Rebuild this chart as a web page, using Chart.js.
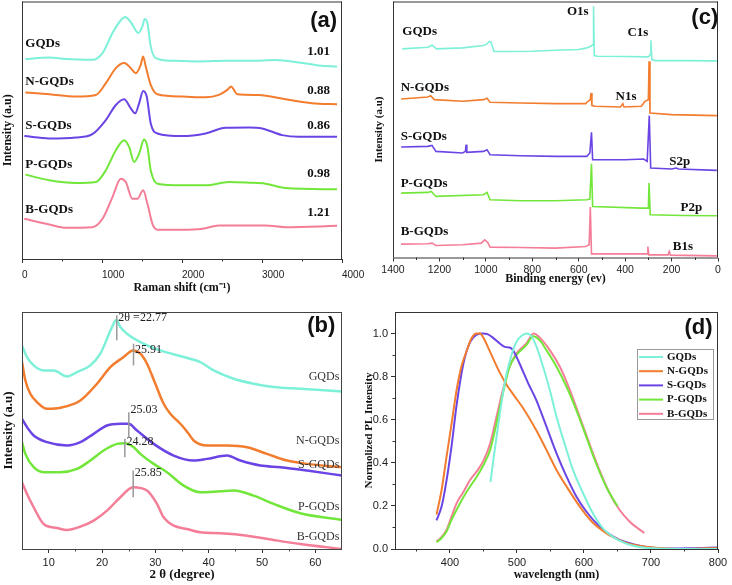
<!DOCTYPE html>
<html lang="en">
<head>
<meta charset="UTF-8">
<title>GQDs: Raman, XRD, XPS and PL</title>
<script src="https://cdn.jsdelivr.net/npm/chart.js"></script>
<style>
  body { margin: 0; background: #fff; }
  #wrap { position: relative; width: 732px; height: 585px; overflow: hidden; }
  canvas { position: absolute; }
</style>
</head>
<body>
<div id="wrap">
  <canvas id="ramanChart" width="372" height="296" style="left:0;top:0"></canvas>
  <canvas id="xpsChart" width="372" height="290" style="left:360px;top:0"></canvas>
  <canvas id="xrdChart" width="360" height="289" style="left:0;top:296px"></canvas>
  <canvas id="plChart" width="372" height="289" style="left:360px;top:296px"></canvas>
</div>
<script>
// ---- data ----
const seriesNames = ['GQDs', 'N-GQDs', 'S-GQDs', 'P-GQDs', 'B-GQDs'];

// (a) Raman: [shift cm-1, offset intensity]
const ramanGQDs = [[42,597],[341,602],[549,597],[881,595],[1006,615],[1131,675],[1235,713],[1289,723],[1360,707],[1455,675],[1505,695],[1534,717],[1568,705],[1609,635],[1672,600],[1879,592],[2212,590],[2545,592],[2877,592],[3168,594],[3460,587],[3709,578],[3938,575]];
const ramanNGQDs = [[42,497],[341,492],[674,485],[923,490],[1048,525],[1173,570],[1277,585],[1360,570],[1422,555],[1484,580],[1514,605],[1547,575],[1609,520],[1692,492],[2004,485],[2295,483],[2462,490],[2566,505],[2615,515],[2649,505],[2690,492],[2960,490],[3293,477],[3626,465],[3938,462]];
const ramanSGQDs = [[29,367],[341,360],[674,363],[881,373],[1048,415],[1173,460],[1277,477],[1360,450],[1414,435],[1464,465],[1514,502],[1559,485],[1609,405],[1692,375],[2004,367],[2295,375],[2545,392],[2836,393],[3002,390],[3252,370],[3460,365],[3938,365]];
const ramanPGQDs = [[42,252],[341,235],[674,227],[923,230],[1048,265],[1173,325],[1277,355],[1339,335],[1401,290],[1464,315],[1526,357],[1568,335],[1609,265],[1692,225],[2004,220],[2295,220],[2586,230],[2836,228],[3044,225],[3293,212],[3938,208]];
const ramanBGQDs = [[29,120],[341,103],[549,93],[881,95],[1006,120],[1131,185],[1235,240],[1297,230],[1380,180],[1443,180],[1514,205],[1568,165],[1638,100],[1713,87],[2004,87],[2254,90],[2462,100],[2794,100],[3044,100],[3293,95],[3938,99]];
const ramanRatio = [1.01, 0.88, 0.86, 0.98, 1.21];
const ramanTicks = [0, 1000, 2000, 3000, 4000];
const ramanMinor = [500, 1500, 2500, 3500];

// (b) XRD: [2 theta, offset intensity]
const xrdGQDs = [[5,610],[5.94,575],[7.19,550],[9.06,535],[10.94,535],[13.44,517],[15.31,530],[17.81,550],[19.69,585],[20.94,630],[21.88,665],[22.69,687],[23.44,665],[24.69,645],[27.19,620],[30.94,595],[35.31,575],[38.44,560],[40.94,535],[44.69,510],[48.44,495],[52.19,485],[57.19,480],[65,472]];
const xrdNGQDs = [[5,560],[5.63,505],[6.56,465],[7.81,440],[9.69,420],[12.19,423],[15.94,445],[19.06,495],[21.56,545],[24.06,575],[25.81,595],[27.19,585],[28.44,555],[30,495],[31.56,435],[32.81,405],[34.06,385],[35,370],[36.25,345],[37.19,325],[39.69,310],[43.44,310],[47.19,305],[50.94,285],[54.69,265],[58.44,255],[65,245]];
const xrdSGQDs = [[5,390],[5.94,365],[7.19,340],[9.69,320],[13.44,310],[15.94,320],[18.44,345],[20.94,370],[23.44,375],[25,375],[26.56,355],[29.69,315],[33.44,280],[37.19,265],[39.69,270],[43.44,280],[45.94,265],[49.69,250],[53.44,245],[58.44,235],[65,220]];
const xrdPGQDs = [[5,320],[5.63,285],[7.19,245],[9.06,230],[12.19,230],[15.31,240],[17.81,265],[20.31,295],[22.81,315],[24.25,317],[25.94,305],[27.19,285],[29.69,255],[32.19,230],[35.31,190],[38.44,170],[42.19,173],[44.69,175],[48.44,160],[52.19,135],[57.19,107],[65,87]];
const xrdBGQDs = [[5,200],[5.94,165],[7.19,125],[9.06,75],[11.56,63],[13.44,57],[15.94,67],[18.44,85],[20.94,115],[23.44,155],[25.81,185],[28.44,175],[30.31,135],[31.56,95],[33.44,70],[35.94,60],[38.44,50],[42.19,47],[47.19,40],[52.19,27],[57.19,15],[65,0]];
const xrdPeaks = [22.77, 25.91, 25.03, 24.28, 25.85];
const xrdTicks = [10, 20, 30, 40, 50, 60];
const xrdMinor = [15, 25, 35, 45, 55];

// (c) XPS survey: [binding energy eV, offset intensity]
const xpsGQDs = [[1360,625],[1250,630],[1232,636],[1212,625],[1100,628],[1010,635],[995,640],[985,647],[978,645],[972,633],[965,617],[900,617],[800,618],[700,621],[600,623],[565,628],[548,633],[538,638],[536,753],[533,605],[520,603],[400,602],[300,601],[292,608],[289,651],[285,593],[270,590],[150,590],[5,589]];
const xpsNGQDs = [[1365,475],[1250,481],[1238,485],[1222,473],[1100,468],[1010,473],[995,477],[982,465],[850,463],[700,461],[570,461],[560,468],[550,473],[547,493],[543,455],[530,453],[420,451],[410,461],[405,451],[330,453],[315,468],[300,473],[297,588],[293,433],[200,428],[5,425]];
const xpsSGQDs = [[1365,331],[1250,333],[1232,336],[1215,318],[1100,313],[1088,318],[1085,338],[1082,315],[1010,318],[995,323],[982,308],[850,305],[700,303],[565,303],[552,313],[545,375],[540,293],[400,293],[320,295],[305,288],[296,425],[290,268],[200,265],[180,268],[170,265],[5,261]];
const xpsPGQDs = [[1365,193],[1250,195],[1235,198],[1215,183],[1010,188],[995,195],[982,173],[850,170],[700,170],[565,173],[552,175],[545,281],[540,153],[330,148],[300,148],[297,223],[292,128],[150,126],[5,125]];
const xpsBGQDs = [[1365,40],[1250,41],[1232,43],[1215,36],[1100,38],[1020,43],[1005,53],[992,45],[982,31],[850,30],[700,28],[570,33],[555,38],[550,151],[545,11],[400,11],[305,11],[302,33],[298,8],[215,8],[210,18],[205,7],[5,5]];
const xpsPeakNames = ['O1s', 'C1s', 'N1s', 'S2p', 'P2p', 'B1s'];
const xpsTicks = [0, 200, 400, 600, 800, 1000, 1200, 1400];
const xpsMinor = [100, 300, 500, 700, 900, 1100, 1300];

// (d) PL: [wavelength nm, normalized intensity]
const plGQDs = [[460.5,0.31],[465,0.42],[470,0.53],[475,0.64],[480,0.74],[485,0.82],[490,0.88],[495,0.93],[500,0.965],[507,0.99],[515,1.0],[522,0.985],[529,0.94],[539,0.846],[549,0.738],[559,0.614],[571,0.49],[583.6,0.367],[598.5,0.26],[613,0.167],[628,0.097],[643,0.056],[663,0.025],[683,0.009],[703,0.003],[742,0],[800,0]];
const plNGQDs = [[380,0.16],[387.6,0.275],[395,0.43],[402.5,0.583],[410,0.74],[417,0.846],[425,0.92],[432,0.977],[440,1.0],[445,1.0],[450,0.98],[457,0.935],[465,0.88],[475,0.815],[485,0.76],[495,0.715],[510,0.65],[529,0.55],[544,0.46],[559,0.367],[574,0.29],[593.5,0.198],[613,0.123],[633,0.074],[643,0.056],[663,0.028],[693,0.01],[722,0.002],[752,0],[800,0.005]];
const plSGQDs = [[380,0.133],[387.6,0.198],[395,0.32],[402.5,0.48],[410,0.67],[420,0.86],[430,0.96],[440,0.995],[449,1.0],[456,0.997],[464.5,0.98],[474.4,0.954],[481.9,0.938],[489,0.935],[494,0.923],[504,0.86],[516.6,0.77],[529,0.69],[544,0.568],[559,0.444],[574,0.336],[588.6,0.244],[603.5,0.174],[623,0.105],[643,0.059],[663,0.031],[693,0.009],[722,0.002],[760,0.003],[800,0.007]];
const plPGQDs = [[380,0.031],[387.6,0.051],[395,0.082],[402.5,0.136],[410,0.182],[420,0.24],[430,0.29],[440,0.335],[450,0.39],[460,0.46],[469.5,0.583],[479,0.722],[489,0.846],[499,0.9],[514,0.946],[524,0.988],[534,0.969],[544,0.923],[559,0.846],[574,0.753],[588.6,0.645],[603.5,0.52],[618,0.398],[633,0.29],[650,0.198]];
const plBGQDs = [[380,0.035],[387.6,0.056],[395,0.09],[402.5,0.151],[410,0.213],[420,0.265],[430,0.32],[440,0.36],[450,0.41],[460,0.49],[469.5,0.614],[479,0.738],[489,0.846],[499,0.907],[514,0.954],[525,1.0],[534,0.981],[549,0.923],[564,0.846],[579,0.738],[593.5,0.614],[608,0.49],[623,0.367],[638,0.26],[653,0.182],[668,0.128],[690,0.074]];
const plTicksX = [400, 500, 600, 700, 800];
const plMinorX = [350, 450, 550, 650, 750];
const plTicksY = [0, 0.2, 0.4, 0.6, 0.8, 1.0];
const plMinorY = [0.1, 0.3, 0.5, 0.7, 0.9];

// ---- styles ----
const lineColors = ['#7df0d8', '#f27d2e', '#6a44e4', '#72e63a', '#f47d97'];
const serif = '"Liberation Serif", "Times New Roman", serif';
const sans = '"Liberation Sans", Arial, sans-serif';
const axisColor = '#333';

function lineSets(list, width, smooth) {
  return list.map((pts, i) => ({
    label: seriesNames[i],
    data: pts.map(p => ({ x: p[0], y: p[1] })),
    borderColor: lineColors[i],
    backgroundColor: lineColors[i],
    borderWidth: width,
    pointRadius: 0,
    fill: false,
    tension: smooth ? 0.4 : 0,
    cubicInterpolationMode: smooth ? 'monotone' : 'default'
  }));
}

function xScale(o) {
  return {
    type: 'linear', min: o.min, max: o.max, reverse: !!o.reverse,
    afterFit: s => { s.height = o.h; },
    afterBuildTicks: s => { s.ticks = o.ticks.map(v => ({ value: v })); },
    grid: { drawOnChartArea: false, tickLength: 4, color: axisColor },
    border: { display: false },
    ticks: { font: { family: sans, size: o.fs }, color: '#222', padding: o.pad, maxRotation: 0, autoSkip: false,
             align: o.align || 'center', callback: v => String(v) },
    title: { display: true, text: o.title, color: '#111', font: { family: serif, weight: 'bold', size: o.ts },
             padding: { top: 0, bottom: o.pb } }
  };
}

function yScale(o) {
  const s = {
    type: 'linear', min: o.min, max: o.max,
    afterFit: sc => { sc.width = o.w; },
    grid: { display: !!o.ticks, drawOnChartArea: false, tickLength: 4, color: axisColor },
    border: { display: false },
    ticks: { display: !!o.ticks, font: { family: sans, size: 11 }, color: '#222', padding: 3,
             callback: v => v.toFixed(1) },
    title: { display: true, text: o.title, color: '#111', font: { family: serif, weight: 'bold', size: o.ts },
             padding: { top: o.pt, bottom: 0 } }
  };
  if (o.ticks) s.afterBuildTicks = sc => { sc.ticks = o.ticks.map(v => ({ value: v })); };
  return s;
}

// frame, minor ticks, text notes and marker lines
const deco = {
  id: 'deco',
  afterDatasetsDraw(chart, args, o) {
    const ctx = chart.ctx, a = chart.chartArea, xs = chart.scales.x, ys = chart.scales.y;
    ctx.save();
    ctx.strokeStyle = o.frameColor || axisColor;
    ctx.lineWidth = 1;
    ctx.beginPath();
    const sides = o.frame || [];
    if (sides.includes('l')) { ctx.moveTo(a.left + 0.5, a.top); ctx.lineTo(a.left + 0.5, a.bottom); }
    if (sides.includes('b')) { ctx.moveTo(a.left, a.bottom + 0.5); ctx.lineTo(a.right, a.bottom + 0.5); }
    if (sides.includes('r')) { ctx.moveTo(a.right - 0.5, a.top); ctx.lineTo(a.right - 0.5, a.bottom); }
    if (sides.includes('t')) { ctx.moveTo(a.left, a.top + 0.5); ctx.lineTo(a.right, a.top + 0.5); }
    (o.minorX || []).forEach(v => {
      const px = Math.round(xs.getPixelForValue(v)) + 0.5;
      ctx.moveTo(px, a.bottom); ctx.lineTo(px, a.bottom + 2.5);
    });
    (o.minorY || []).forEach(v => {
      const py = Math.round(ys.getPixelForValue(v)) + 0.5;
      ctx.moveTo(a.left, py); ctx.lineTo(a.left - 2.5, py);
    });
    ctx.stroke();
    (o.marks || []).forEach(m => {
      ctx.strokeStyle = '#999'; ctx.lineWidth = 1.5;
      ctx.beginPath();
      const px = xs.getPixelForValue(m.x);
      ctx.moveTo(px, ys.getPixelForValue(m.y1)); ctx.lineTo(px, ys.getPixelForValue(m.y2));
      ctx.stroke();
    });
    (o.notes || []).forEach(t => {
      ctx.font = t.font; ctx.fillStyle = t.color || '#111';
      ctx.textAlign = t.align || 'left'; ctx.textBaseline = 'middle';
      ctx.fillText(t.text, xs.getPixelForValue(t.x), ys.getPixelForValue(t.y));
    });
    ctx.restore();
  }
};

// boxed legend in the top right of the plot
const boxLegend = {
  id: 'boxLegend',
  afterDatasetsDraw(chart, args, o) {
    if (!o.show) return;
    const ctx = chart.ctx, a = chart.chartArea;
    const x0 = a.right - o.right - o.w, y0 = a.top + o.top;
    ctx.save();
    ctx.fillStyle = '#fff';
    ctx.fillRect(x0, y0, o.w, o.h);
    ctx.strokeStyle = '#999'; ctx.lineWidth = 1;
    ctx.strokeRect(x0 + 0.5, y0 + 0.5, o.w, o.h);
    ctx.font = 'bold 11px ' + serif; ctx.textBaseline = 'middle'; ctx.fillStyle = '#111';
    chart.data.datasets.forEach((d, i) => {
      const y = y0 + 8 + i * 14.2;
      ctx.strokeStyle = d.borderColor; ctx.lineWidth = 2;
      ctx.beginPath(); ctx.moveTo(x0 + 2, y); ctx.lineTo(x0 + 26, y); ctx.stroke();
      ctx.fillText(d.label, x0 + 30, y);
    });
    ctx.restore();
  }
};

function build(id, datasets, scales, padding, decoOpts, legendOpts) {
  new Chart(document.getElementById(id), {
    type: 'line',
    data: { datasets: datasets },
    options: {
      responsive: false, animation: false, events: [],
      layout: { padding: padding },
      scales: scales,
      plugins: {
        legend: { display: false }, tooltip: { enabled: false },
        deco: decoOpts, boxLegend: legendOpts || { show: false }
      }
    },
    plugins: [deco, boxLegend]
  });
}

const labelFont = 'bold 13px ' + serif;
const tagFont = 'bold 22px ' + sans;

// (a) Raman
const ramanNameY = [642, 530, 397, 282, 147];
const ramanRatioY = [620, 502, 397, 255, 138];
build('ramanChart',
  lineSets([ramanGQDs, ramanNGQDs, ramanSGQDs, ramanPGQDs, ramanBGQDs], 2, true),
  {
    x: xScale({ min: 0, max: 4000, ticks: ramanTicks, h: 37, fs: 10, pad: 6, align: 'start', title: 'Raman shift (cm\u207B\u00B9)', ts: 12, pb: 1 }),
    y: yScale({ min: 0, max: 769, w: 22, title: 'Intensity (a.u)', ts: 12, pt: 1 })
  },
  { top: 1.5, right: 30, bottom: 0, left: 0 },
  {
    frame: 'lbrt', minorX: ramanMinor,
    notes: seriesNames.map((n, i) => ({ text: n, x: 42, y: ramanNameY[i], font: labelFont }))
      .concat(ramanRatio.map((r, i) => ({ text: r.toFixed(2), x: 3709, y: ramanRatioY[i], font: labelFont, align: 'center' })))
      .concat([{ text: '(a)', x: 3771, y: 710, font: tagFont, align: 'center' }])
  });

// (c) XPS
const xpsNameY = [678, 508, 363, 221, 78];
const xpsPeakX = [604, 345, 396, 165, 115, 151];
const xpsPeakY = [736, 673, 483, 286, 148, 33];
build('xpsChart',
  lineSets([xpsGQDs, xpsNGQDs, xpsSGQDs, xpsPGQDs, xpsBGQDs], 1.6, false),
  {
    x: xScale({ min: 0, max: 1400, reverse: true, ticks: xpsTicks, h: 32.5, fs: 10.5, pad: 2, title: 'Binding energy (ev)', ts: 12, pb: 4 }),
    y: yScale({ min: 0, max: 767, w: 33, title: 'Intensity (a.u)', ts: 11, pt: 13 })
  },
  { top: 1.5, right: 14, bottom: 0, left: 0 },
  {
    frame: 'lbrt', minorX: xpsMinor,
    notes: seriesNames.map((n, i) => ({ text: n, x: i === 0 ? 1360 : 1367, y: xpsNameY[i], font: labelFont }))
      .concat(xpsPeakNames.map((n, i) => ({ text: n, x: xpsPeakX[i], y: xpsPeakY[i], font: labelFont, align: 'center' })))
      .concat([{ text: '(c)', x: 57, y: 718, font: tagFont, align: 'center' }])
  });

// (b) XRD
const xrdNameY = [515, 323, 253, 125, 37];
const xrdMarkY = [[625, 700], [550, 615], [335, 410], [275, 330], [155, 235]];
const xrdTextY = [693, 597, 417, 320, 227];
const noteFont = '12px ' + serif;
build('xrdChart',
  lineSets([xrdGQDs, xrdNGQDs, xrdSGQDs, xrdPGQDs, xrdBGQDs], 2.5, true),
  {
    x: xScale({ min: 5, max: 65, ticks: xrdTicks, h: 36, fs: 11, pad: 3.5, title: '2 \u03B8 (degree)', ts: 13, pb: 3 }),
    y: yScale({ min: 0, max: 710, w: 22, title: 'Intensity (a.u)', ts: 13, pt: 1 })
  },
  { top: 16, right: 18, bottom: 0, left: 0 },
  {
    frame: 'lbrt', frameColor: '#444', minorX: xrdMinor,
    marks: xrdPeaks.map((p, i) => ({ x: p, y1: xrdMarkY[i][0], y2: xrdMarkY[i][1] })),
    notes: seriesNames.map((n, i) => ({ text: n, x: 64.5, y: xrdNameY[i], font: noteFont, color: '#333', align: 'right' }))
      .concat(xrdPeaks.map((p, i) => ({ text: (i === 0 ? '2\u03B8 =' : '') + p.toFixed(2), x: p + 0.3, y: xrdTextY[i], font: noteFont, color: '#222' })))
      .concat([{ text: '(b)', x: 61.1, y: 668, font: tagFont, align: 'center' }])
  });

// (d) PL
build('plChart',
  lineSets([plGQDs, plNGQDs, plSGQDs, plPGQDs, plBGQDs], 2, true),
  {
    x: xScale({ min: 318, max: 800, ticks: plTicksX, h: 36, fs: 11, pad: 3, title: 'wavelength (nm)', ts: 12, pb: 3 }),
    y: yScale({ min: 0, max: 1.1, w: 35, ticks: plTicksY, title: 'Normolized PL Intensity', ts: 11, pt: 3 })
  },
  { top: 16, right: 14, bottom: 0, left: 0 },
  {
    frame: 'lbrt', minorX: plMinorX, minorY: plMinorY,
    notes: [{ text: '(d)', x: 771, y: 1.028, font: tagFont, align: 'center' }]
  },
  { show: true, right: 5, top: 37, w: 76, h: 70 });
</script>
</body>
</html>
